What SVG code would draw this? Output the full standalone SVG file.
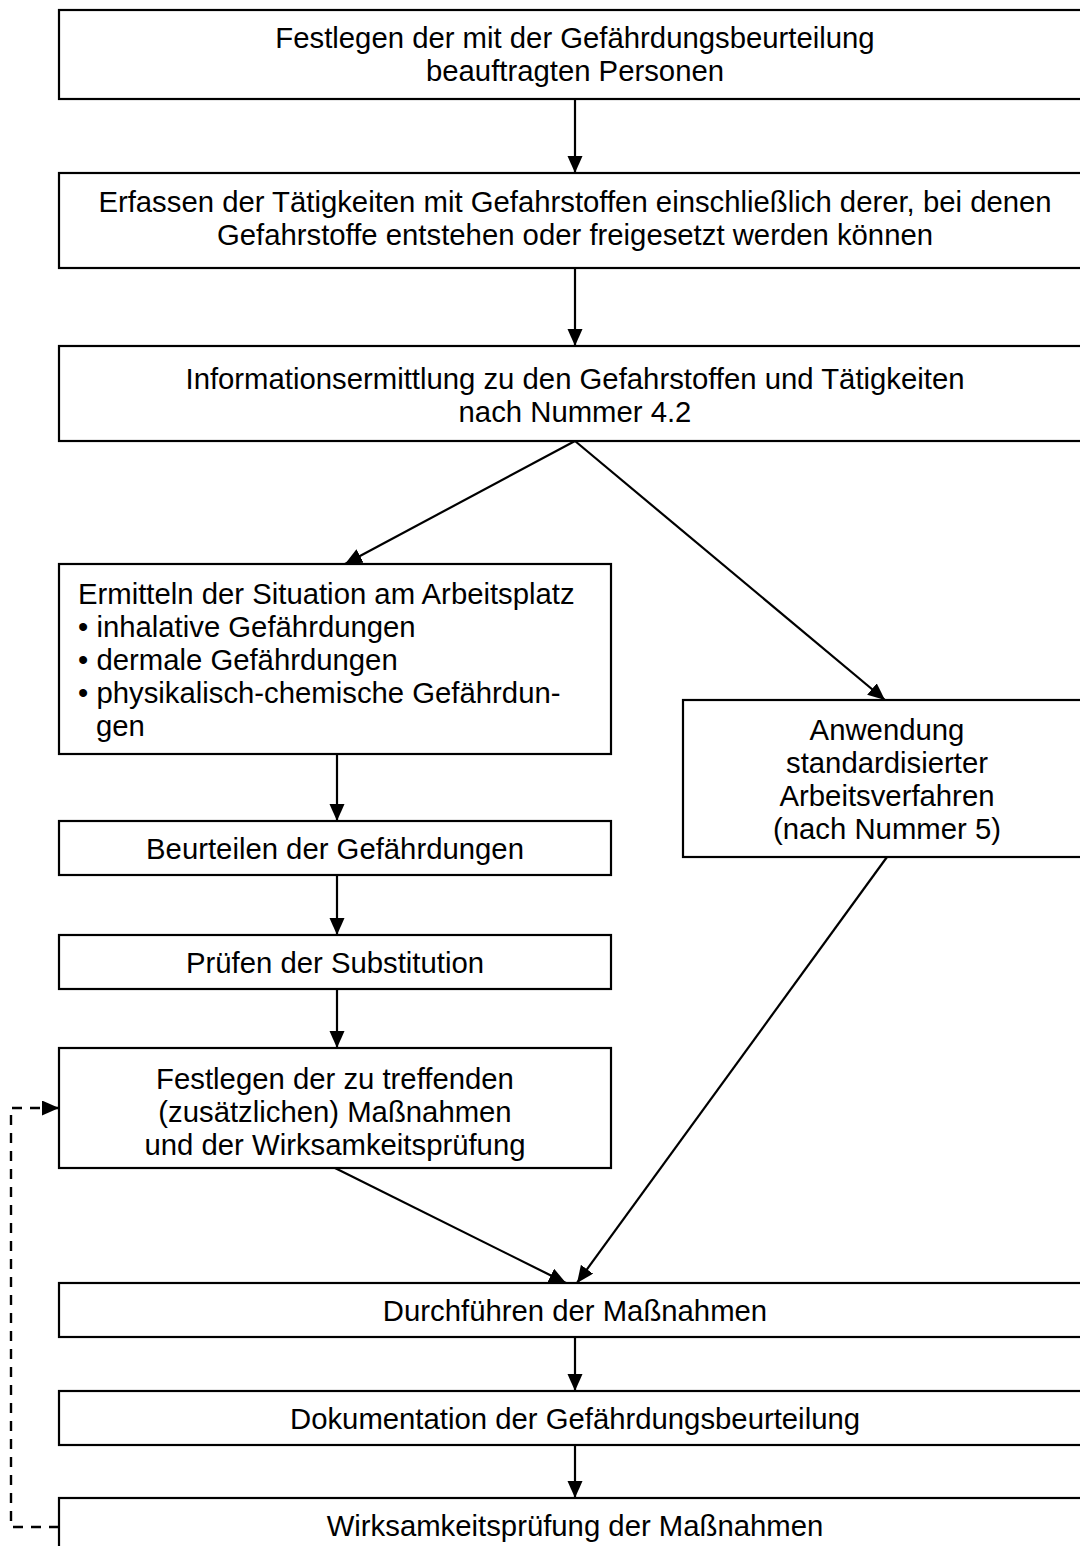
<svg xmlns="http://www.w3.org/2000/svg" width="1080" height="1546" viewBox="0 0 1080 1546">
<style>
.box{fill:#fff;stroke:#000;stroke-width:2.2}
.t{font-family:"Liberation Sans",Arial,sans-serif;font-size:29.3px;fill:#000}
.c{text-anchor:middle}
.ln{stroke:#000;stroke-width:2.2;fill:none}
.dash{stroke:#000;stroke-width:2.4;fill:none;stroke-dasharray:10,8}
</style>
<defs>
<marker id="ah" markerUnits="userSpaceOnUse" markerWidth="20" markerHeight="16" refX="17" refY="7.5" orient="auto">
<path d="M0,0 L17,7.5 L0,15 z" fill="#000"/>
</marker>
</defs>
<rect width="1080" height="1546" fill="#fff"/>
<g id="connectors">
<line class="ln" x1="575" y1="99" x2="575" y2="173" marker-end="url(#ah)"/>
<line class="ln" x1="575" y1="268" x2="575" y2="346" marker-end="url(#ah)"/>
<line class="ln" x1="575" y1="441" x2="345" y2="564" marker-end="url(#ah)"/>
<line class="ln" x1="575" y1="441" x2="885" y2="700" marker-end="url(#ah)"/>
<line class="ln" x1="337" y1="754" x2="337" y2="821" marker-end="url(#ah)"/>
<line class="ln" x1="337" y1="875" x2="337" y2="935" marker-end="url(#ah)"/>
<line class="ln" x1="337" y1="989" x2="337" y2="1048" marker-end="url(#ah)"/>
<line class="ln" x1="335" y1="1168" x2="566" y2="1283" marker-end="url(#ah)"/>
<line class="ln" x1="887" y1="857" x2="577" y2="1283" marker-end="url(#ah)"/>
<line class="ln" x1="575" y1="1337" x2="575" y2="1391" marker-end="url(#ah)"/>
<line class="ln" x1="575" y1="1445" x2="575" y2="1498" marker-end="url(#ah)"/>
<path class="dash" d="M59,1527 H11 V1108 H59" marker-end="url(#ah)"/>
</g>
<g id="n1"><rect class="box" x="59" y="10" width="1032" height="89"/>
<text class="t c" x="575" y="48">Festlegen der mit der Gefährdungsbeurteilung</text>
<text class="t c" x="575" y="81">beauftragten Personen</text></g>
<g id="n2"><rect class="box" x="59" y="173" width="1032" height="95"/>
<text class="t c" x="575" y="212">Erfassen der Tätigkeiten mit Gefahrstoffen einschließlich derer, bei denen</text>
<text class="t c" x="575" y="245">Gefahrstoffe entstehen oder freigesetzt werden können</text></g>
<g id="n3"><rect class="box" x="59" y="346" width="1032" height="95"/>
<text class="t c" x="575" y="389">Informationsermittlung zu den Gefahrstoffen und Tätigkeiten</text>
<text class="t c" x="575" y="422">nach Nummer 4.2</text></g>
<g id="n4"><rect class="box" x="59" y="564" width="552" height="190"/>
<text class="t" x="78" y="604">Ermitteln der Situation am Arbeitsplatz</text>
<text class="t" x="78" y="637">• inhalative Gefährdungen</text>
<text class="t" x="78" y="670">• dermale Gefährdungen</text>
<text class="t" x="78" y="703">• physikalisch-chemische Gefährdun-</text>
<text class="t" x="96" y="736">gen</text></g>
<g id="n5"><rect class="box" x="683" y="700" width="408" height="157"/>
<text class="t c" x="887" y="740">Anwendung</text>
<text class="t c" x="887" y="773">standardisierter</text>
<text class="t c" x="887" y="806">Arbeitsverfahren</text>
<text class="t c" x="887" y="839">(nach Nummer 5)</text></g>
<g id="n6"><rect class="box" x="59" y="821" width="552" height="54"/>
<text class="t c" x="335" y="859">Beurteilen der Gefährdungen</text></g>
<g id="n7"><rect class="box" x="59" y="935" width="552" height="54"/>
<text class="t c" x="335" y="973">Prüfen der Substitution</text></g>
<g id="n8"><rect class="box" x="59" y="1048" width="552" height="120"/>
<text class="t c" x="335" y="1089">Festlegen der zu treffenden</text>
<text class="t c" x="335" y="1122">(zusätzlichen) Maßnahmen</text>
<text class="t c" x="335" y="1155">und der Wirksamkeitsprüfung</text></g>
<g id="n9"><rect class="box" x="59" y="1283" width="1032" height="54"/>
<text class="t c" x="575" y="1321">Durchführen der Maßnahmen</text></g>
<g id="n10"><rect class="box" x="59" y="1391" width="1032" height="54"/>
<text class="t c" x="575" y="1429">Dokumentation der Gefährdungsbeurteilung</text></g>
<g id="n11"><rect class="box" x="59" y="1498" width="1032" height="80"/>
<text class="t c" x="575" y="1536">Wirksamkeitsprüfung der Maßnahmen</text></g>
</svg>
